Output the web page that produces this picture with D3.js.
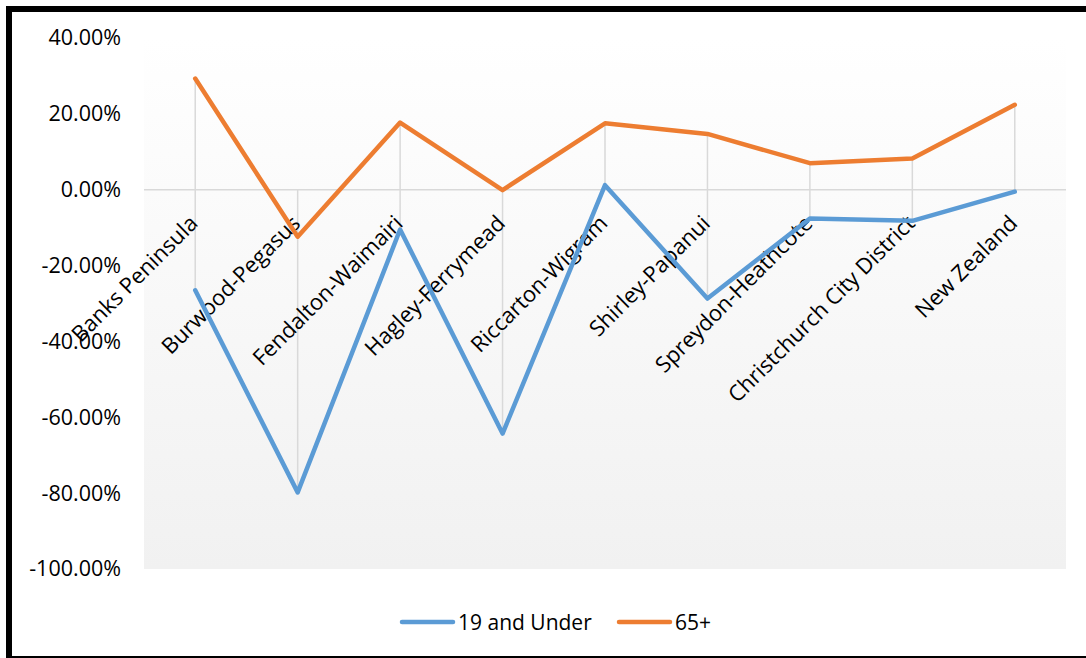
<!DOCTYPE html>
<html>
<head>
<meta charset="utf-8">
<script src="https://cdn.jsdelivr.net/npm/d3@7/dist/d3.min.js"></script>
<style>
  html, body { margin: 0; padding: 0; background: #fff; }
  svg { display: block; font-family: "Open Sans", sans-serif; }
</style>
</head>
<body>
<div id="chart"></div>
<script>
// 区域名称
const categories = [
  "Banks Peninsula", "Burwood-Pegasus", "Fendalton-Waimairi", "Hagley-Ferrymead",
  "Riccarton-Wigram", "Shirley-Papanui", "Spreydon-Heathcote",
  "Christchurch City District", "New Zealand"
];
// 变化率 (%)
const under19 = [-26.5, -79.8, -10.5, -64.3, 1.2, -28.7, -7.6, -8.2, -0.5];
const over65  = [29.3, -12.4, 17.7, -0.1, 17.5, 14.7, 7.0, 8.2, 22.4];
const yTicks = [40, 20, 0, -20, -40, -60, -80, -100];
const seriesNames = ["19 and Under", "65+"];
const seriesColors = ["#5B9BD5", "#ED7D31"];

const width = 1086, height = 658;
const plot = { left: 144, right: 1066, top: 38, bottom: 569 };

const svg = d3.select("#chart").append("svg")
  .attr("width", width)
  .attr("height", height);

// 背景渐变
const grad = svg.append("defs").append("linearGradient")
  .attr("id", "bg").attr("x1", 0).attr("y1", 0).attr("x2", 0).attr("y2", 1);
grad.append("stop").attr("offset", "0%").attr("stop-color", "#ffffff");
grad.append("stop").attr("offset", "100%").attr("stop-color", "#f1f1f1");

svg.append("rect")
  .attr("x", plot.left).attr("y", plot.top)
  .attr("width", plot.right - plot.left).attr("height", plot.bottom - plot.top)
  .attr("fill", "url(#bg)");

const x = d3.scalePoint()
  .domain(categories)
  .range([plot.left, plot.right])
  .padding(0.5);

const y = d3.scaleLinear()
  .domain([-100, 40])
  .range([plot.bottom, plot.top]);

// y 轴文字
const yAxis = d3.axisLeft(y)
  .tickValues(yTicks)
  .tickFormat(d => d.toFixed(2) + "%")
  .tickSize(0)
  .tickPadding(0);
const yG = svg.append("g")
  .attr("transform", "translate(121,0)")
  .call(yAxis);
yG.select("path.domain").remove();
yG.selectAll("text")
  .attr("font-size", 21.5)
  .attr("font-family", "Open Sans, sans-serif")
  .attr("fill", "#000");

// 高低线 (high-low lines)
const rows = categories.map((c, i) => ({ c, a: under19[i], b: over65[i] }));
svg.append("g").selectAll("line")
  .data(rows)
  .join("line")
  .attr("x1", d => x(d.c)).attr("x2", d => x(d.c))
  .attr("y1", d => y(Math.max(0, d.a, d.b)))
  .attr("y2", d => y(Math.min(0, d.a, d.b)))
  .attr("stroke", "#d9d9d9")
  .attr("stroke-width", 1.5);

// 0 轴线
svg.append("line")
  .attr("x1", plot.left).attr("x2", plot.right)
  .attr("y1", y(0)).attr("y2", y(0))
  .attr("stroke", "#d9d9d9")
  .attr("stroke-width", 1.5);

// 类别标签（旋转 -45°）
svg.append("g").selectAll("text")
  .data(categories)
  .join("text")
  .attr("transform", d => `translate(${x(d) + 4}, ${y(0) + 35}) rotate(-45)`)
  .attr("text-anchor", "end")
  .attr("font-size", 22)
  .attr("fill", "#000")
  .text(d => d);

// 折线
const line = d3.line()
  .x((d, i) => x(categories[i]))
  .y(d => y(d));

[under19, over65].forEach((vals, k) => {
  svg.append("path")
    .datum(vals)
    .attr("d", line)
    .attr("fill", "none")
    .attr("stroke", seriesColors[k])
    .attr("stroke-width", 4.5)
    .attr("stroke-linejoin", "round")
    .attr("stroke-linecap", "round");
});

// 图例
const legendItems = [
  { label: seriesNames[0], color: seriesColors[0], x0: 400 },
  { label: seriesNames[1], color: seriesColors[1], x0: 617 }
];
const legend = svg.append("g").attr("transform", "translate(0, 622)");
legendItems.forEach(d => {
  legend.append("line")
    .attr("x1", d.x0 + 2).attr("x2", d.x0 + 53)
    .attr("y1", 0).attr("y2", 0)
    .attr("stroke", d.color)
    .attr("stroke-width", 4.5)
    .attr("stroke-linecap", "round");
  legend.append("text")
    .attr("x", d.x0 + 58)
    .attr("y", 7.5)
    .attr("font-size", 21)
    .attr("fill", "#000")
    .text(d.label);
});

// 外框
svg.append("rect")
  .attr("x", 9).attr("y", 9)
  .attr("width", 1100).attr("height", 650)
  .attr("fill", "none")
  .attr("stroke", "#000")
  .attr("stroke-width", 6);
</script>
</body>
</html>
